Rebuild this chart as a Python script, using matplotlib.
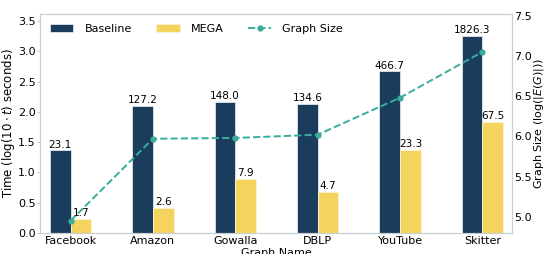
import numpy as np
import matplotlib
matplotlib.use('Agg')
import matplotlib.pyplot as plt

# data
graphs = ['Facebook', 'Amazon', 'Gowalla', 'DBLP', 'YouTube', 'Skitter']
baseline = [23.1, 127.2, 148.0, 134.6, 466.7, 1826.3]
mega = [1.7, 2.6, 7.9, 4.7, 23.3, 67.5]
graph_size = [4.95, 5.97, 5.98, 6.02, 6.48, 7.05]

c_base = '#1b3d5d'
c_mega = '#f5d45e'
c_line = '#3aac9c'
c_spine = '#c8cfd4'

fig, ax = plt.subplots(figsize=(5.46, 2.54), dpi=100)
fig.subplots_adjust(left=0.0733, right=0.938, top=0.945, bottom=0.083)

x = np.arange(len(graphs))
w = 0.25
b1 = ax.bar(x - w/2, np.log10(baseline), w, color=c_base, edgecolor='#dfe6ea', linewidth=0.6, label='Baseline')
b2 = ax.bar(x + w/2, np.log10(mega), w, color=c_mega, edgecolor='#fbf3d5', linewidth=0.6, label='MEGA')

# value labels on bars
for rect, v in zip(b1, baseline):
    ax.text(rect.get_x() + rect.get_width()/2, rect.get_height() + 0.015, '%.1f' % v,
            ha='center', va='bottom', fontsize=7.5)
for rect, v in zip(b2, mega):
    ax.text(rect.get_x() + rect.get_width()/2, rect.get_height() + 0.015, '%.1f' % v,
            ha='center', va='bottom', fontsize=7.5)

ax.set_xticks(x)
ax.set_xticklabels(graphs, fontsize=8)
ax.set_xlim(-0.37, 5.36)
ax.set_ylim(0, 3.62)
ax.set_yticks(np.arange(0, 3.51, 0.5))
ax.tick_params(axis='y', labelsize=8, length=2, color=c_spine, pad=1)
ax.tick_params(axis='x', length=0, pad=2)
ax.set_xlabel('Graph Name', fontsize=8, labelpad=2)
ax.set_ylabel(r'Time (log($10 \cdot t$) seconds)', fontsize=8.5, labelpad=1)

ax2 = ax.twinx()
ln, = ax2.plot(x, graph_size, '--o', color=c_line, markersize=3.5, linewidth=1.4, label='Graph Size')
ax2.set_ylim(4.80, 7.52)
ax2.set_yticks(np.arange(5.0, 7.51, 0.5))
ax2.tick_params(axis='y', labelsize=8, length=0, pad=1.5)
ax2.set_ylabel(r'Graph Size (log($|E(G)|$))', fontsize=8, labelpad=0)

for a in (ax, ax2):
    for s in a.spines.values():
        s.set_color(c_spine)
        s.set_linewidth(0.8)

handles = [b1, b2, ln]
ax.legend(handles, ['Baseline', 'MEGA', 'Graph Size'], loc='upper left', ncol=3,
          frameon=False, fontsize=8, handlelength=2.1, handletextpad=1.0,
          columnspacing=2.2, bbox_to_anchor=(0.0, 1.0))

fig.savefig('out.png', dpi=100)
